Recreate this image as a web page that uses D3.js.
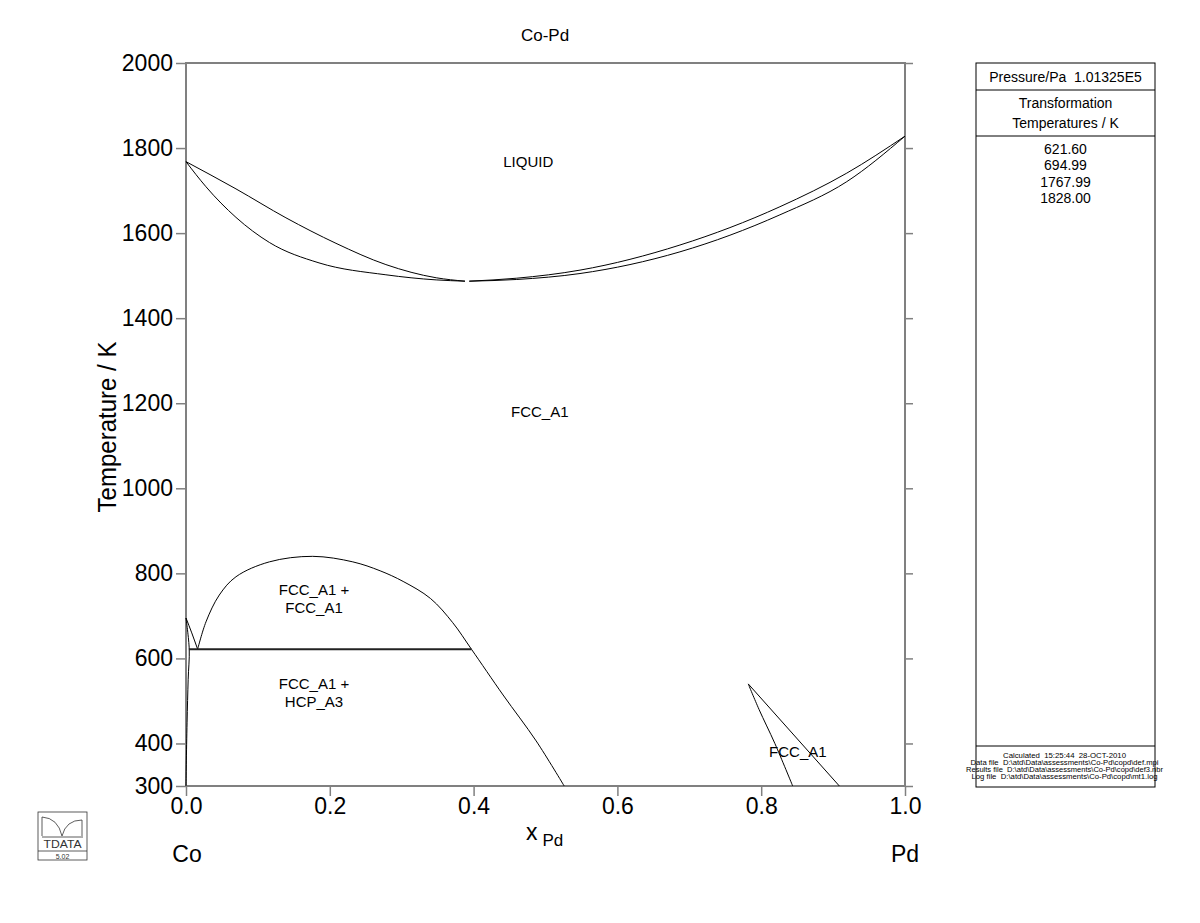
<!DOCTYPE html>
<html>
<head>
<meta charset="utf-8">
<title>Co-Pd</title>
<script src="https://cdn.jsdelivr.net/npm/d3@7"></script>
<style>
  body { margin: 0; background: #fff; }
  svg { font-family: "Liberation Sans", Arial, sans-serif; }
</style>
</head>
<body>
<svg id="chart" width="1200" height="923"></svg>
<script>
// Step-1 : data (x = mole fraction Pd, T in K) //
var liquidusLeft = [[0, 1768], [0.0695, 1704], [0.139, 1636], [0.2086, 1576], [0.278, 1526], [0.348, 1495], [0.388, 1487]];
var solidusLeft = [[0, 1768], [0.0278, 1709], [0.0695, 1637], [0.116, 1578], [0.185, 1530], [0.278, 1502], [0.348, 1490], [0.388, 1487]];
var liquidusRight = [[0.394, 1487], [0.46, 1494], [0.548, 1513], [0.687, 1572], [0.826, 1662], [0.919, 1741], [1, 1828]];
var solidusRight = [[0.394, 1487], [0.46, 1491], [0.548, 1505], [0.687, 1556], [0.826, 1643], [0.919, 1721], [1, 1828]];
var miscibilityGap = [[0.0162, 621.6], [0.0278, 686], [0.0463, 749], [0.0695, 792], [0.1159, 827], [0.1762, 840],
  [0.232, 827], [0.27, 806], [0.302, 781], [0.34, 741], [0.371, 684], [0.397, 621.6], [0.441, 514], [0.487, 406], [0.526, 300]];
var fccBoundary = [[0, 695], [0.008, 660], [0.0162, 621.6]];
var hcpBoundary = [[0, 695], [0.0045, 621.6], [0.003, 550], [0.0015, 450], [0.0004, 350], [0, 300]];
var eutectoid = [[0.004, 621.6], [0.397, 621.6]];
var pdLeftBranch = [[0.782, 540], [0.797, 480], [0.819, 400], [0.8438, 300]];
var pdRightBranch = [[0.782, 540], [0.9087, 300]];

var yTicks = [300, 400, 600, 800, 1000, 1200, 1400, 1600, 1800, 2000];
var xTicks = [0, 0.2, 0.4, 0.6, 0.8, 1.0];

var phaseLabels = [
  { x: 0.476, T: 1767, lines: ["LIQUID"] },
  { x: 0.492, T: 1179, lines: ["FCC_A1"] },
  { x: 0.178, T: 740, lines: ["FCC_A1 +", "FCC_A1"] },
  { x: 0.178, T: 519, lines: ["FCC_A1 +", "HCP_A3"] },
  { x: 0.851, T: 380, lines: ["FCC_A1"] }
];

var transTemps = ["621.60", "694.99", "1767.99", "1828.00"];
var fileInfo = [
  "Calculated  15:25:44  28-OCT-2010",
  "Data file  D:\\atd\\Data\\assessments\\Co-Pd\\copd\\def.mpi",
  "Results file  D:\\atd\\Data\\assessments\\Co-Pd\\copd\\def3.nbr",
  "Log file  D:\\atd\\Data\\assessments\\Co-Pd\\copd\\mt1.log"
];
var fileInfoWidth = [123, 188, 197, 186];

// Step-2 : scales and frame //
var svg = d3.select("#chart");
var margin = { top: 63, left: 186, bottom: 786, right: 905 };

var x = d3.scaleLinear().domain([0, 1]).range([margin.left, margin.right]);
var y = d3.scaleLinear().domain([300, 2000]).range([margin.bottom, margin.top]);

var axisGrey = "#808080";

svg.append("g")
  .attr("transform", `translate(${margin.left},0)`)
  .attr("class", "y-axis")
  .call(d3.axisLeft(y).tickValues(yTicks).tickFormat(d3.format("d")).tickSize(10).tickPadding(3).tickSizeOuter(0));

svg.append("g")
  .attr("transform", `translate(${margin.right},0)`)
  .attr("class", "y-axis-right")
  .call(d3.axisRight(y).tickValues(yTicks).tickFormat("").tickSize(8).tickSizeOuter(0));

svg.append("g")
  .attr("transform", `translate(0,${margin.bottom})`)
  .attr("class", "x-axis")
  .call(d3.axisBottom(x).tickValues(xTicks).tickFormat(d3.format(".1f")).tickSize(10).tickPadding(2).tickSizeOuter(0));

svg.selectAll(".y-axis text, .x-axis text")
  .attr("fill", "#000")
  .style("font-size", "23px")
  .style("font-family", "Liberation Sans, Arial, sans-serif");
svg.selectAll(".y-axis .domain, .y-axis-right .domain, .x-axis .domain").remove();
svg.selectAll(".tick line").attr("stroke", axisGrey).attr("stroke-width", 1.5);

// plot border
svg.append("rect")
  .attr("x", margin.left)
  .attr("y", margin.top)
  .attr("width", margin.right - margin.left)
  .attr("height", margin.bottom - margin.top)
  .attr("fill", "none")
  .attr("stroke", axisGrey)
  .attr("stroke-width", 2);

// Step-3 : phase boundaries //
var smooth = d3.line()
  .x(d => x(d[0]))
  .y(d => y(d[1]))
  .curve(d3.curveMonotoneX);

var loose = d3.line()
  .x(d => x(d[0]))
  .y(d => y(d[1]))
  .curve(d3.curveCatmullRom.alpha(0.5));

var curves = [liquidusLeft, solidusLeft, liquidusRight, solidusRight, fccBoundary];

svg.append("g").selectAll("path")
  .data(curves)
  .enter().append("path")
  .attr("d", smooth)
  .attr("fill", "none")
  .attr("stroke", "#000")
  .attr("stroke-width", 1);

svg.append("g").selectAll("path")
  .data([miscibilityGap, hcpBoundary, pdLeftBranch, pdRightBranch])
  .enter().append("path")
  .attr("d", loose)
  .attr("fill", "none")
  .attr("stroke", "#000")
  .attr("stroke-width", 1);

svg.append("path")
  .datum(eutectoid)
  .attr("d", d3.line().x(d => x(d[0])).y(d => y(d[1])))
  .attr("fill", "none")
  .attr("stroke", "#222")
  .attr("stroke-width", 2.2);

// phase labels
var labels = svg.append("g").selectAll("text")
  .data(phaseLabels)
  .enter().append("text")
  .attr("text-anchor", "middle")
  .style("font-size", "15px")
  .attr("transform", d => `translate(${x(d.x)},${y(d.T)})`);

labels.selectAll("tspan")
  .data(d => d.lines.map((t, i) => ({ t: t, i: i, n: d.lines.length })))
  .enter().append("tspan")
  .attr("x", 0)
  .attr("y", d => (d.i - (d.n - 1) / 2) * 18)
  .attr("dy", "0.35em")
  .text(d => d.t);

// Step-4 : titles //
svg.append("text")
  .attr("x", 545).attr("y", 41)
  .attr("text-anchor", "middle")
  .style("font-size", "17px")
  .text("Co-Pd");

svg.append("text")
  .attr("transform", "translate(116,427) rotate(-90)")
  .attr("text-anchor", "middle")
  .attr("textLength", 171)
  .attr("lengthAdjust", "spacingAndGlyphs")
  .style("font-size", "25px")
  .text("Temperature / K");

var xl = svg.append("text")
  .attr("x", 526).attr("y", 840)
  .style("font-size", "23px");
xl.append("tspan").text("x");
xl.append("tspan").attr("dx", 5).attr("dy", 6).style("font-size", "17px").text("Pd");

svg.append("text")
  .attr("x", 187).attr("y", 862)
  .attr("text-anchor", "middle")
  .style("font-size", "23px")
  .text("Co");

svg.append("text")
  .attr("x", 905).attr("y", 862)
  .attr("text-anchor", "middle")
  .style("font-size", "23px")
  .text("Pd");

// Step-5 : info box on the right //
var box = { left: 976, right: 1155, top: 63, bottom: 787 };
var cx = (box.left + box.right) / 2;
var info = svg.append("g");

info.append("rect")
  .attr("x", box.left).attr("y", box.top)
  .attr("width", box.right - box.left).attr("height", box.bottom - box.top)
  .attr("fill", "none").attr("stroke", "#000").attr("stroke-width", 1);

[90, 136, 746].forEach(function (yy) {
  info.append("line")
    .attr("x1", box.left).attr("x2", box.right)
    .attr("y1", yy).attr("y2", yy)
    .attr("stroke", "#000").attr("stroke-width", 1);
});

info.append("text")
  .attr("x", cx).attr("y", 82)
  .attr("text-anchor", "middle")
  .attr("xml:space", "preserve")
  .style("font-size", "14px")
  .text("Pressure/Pa  1.01325E5");

info.append("text")
  .attr("x", cx).attr("y", 108)
  .attr("text-anchor", "middle")
  .style("font-size", "14px")
  .text("Transformation");

info.append("text")
  .attr("x", cx).attr("y", 128)
  .attr("text-anchor", "middle")
  .style("font-size", "14px")
  .text("Temperatures / K");

info.selectAll(".temp")
  .data(transTemps)
  .enter().append("text")
  .attr("class", "temp")
  .attr("x", cx)
  .attr("y", (d, i) => 154 + i * 16.3)
  .attr("text-anchor", "middle")
  .style("font-size", "14px")
  .text(d => d);

info.selectAll(".file")
  .data(fileInfo)
  .enter().append("text")
  .attr("class", "file")
  .attr("x", cx - 1)
  .attr("y", (d, i) => 758 + i * 7)
  .attr("text-anchor", "middle")
  .attr("textLength", (d, i) => fileInfoWidth[i])
  .attr("lengthAdjust", "spacingAndGlyphs")
  .attr("xml:space", "preserve")
  .attr("fill", "#000")
  .style("font-size", "8px")
  .text(d => d);

// Step-6 : little logo bottom left //
var logo = svg.append("g").attr("transform", "translate(38,812)");
logo.append("rect").attr("width", 49).attr("height", 48)
  .attr("fill", "none").attr("stroke", "#333").attr("stroke-width", 0.8);
logo.append("line").attr("x1", 0).attr("x2", 49).attr("y1", 39).attr("y2", 39)
  .attr("stroke", "#333").attr("stroke-width", 0.8);
logo.append("path")
  .attr("d", "M4,24 L4,5 Q20,6 24,24 Q28,8 44,8 L44,24 M4,25 L45,25")
  .attr("fill", "none").attr("stroke", "#333").attr("stroke-width", 0.8);
logo.append("text")
  .attr("x", 24.5).attr("y", 36)
  .attr("text-anchor", "middle")
  .attr("textLength", 38).attr("lengthAdjust", "spacingAndGlyphs")
  .style("font-size", "11px").attr("fill", "#333")
  .text("TDATA");
logo.append("text")
  .attr("x", 24.5).attr("y", 46.5)
  .attr("text-anchor", "middle")
  .style("font-size", "7px").attr("fill", "#333")
  .text("5.02");
</script>
</body>
</html>
